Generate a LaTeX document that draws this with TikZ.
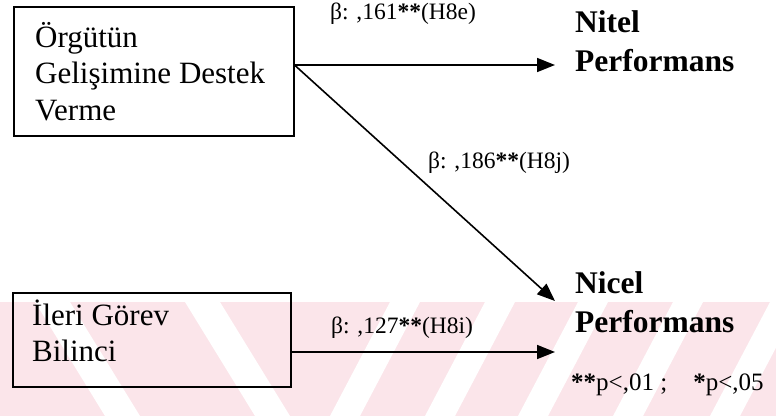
\documentclass[tikz,border=0pt]{standalone}
\usepackage{fontspec}
\setmainfont{Liberation Serif}
\usetikzlibrary{arrows.meta}
\definecolor{wmpink}{RGB}{251,229,234}
\begin{document}
\begin{tikzpicture}[x=1pt,y=-1pt,
  box/.style={draw=black, line width=1.5pt, inner sep=0pt, anchor=north west},
  boxtext/.style={anchor=base west, inner sep=0pt, font=\fontsize{31}{36.5}\selectfont},
  outcome/.style={anchor=base west, inner sep=0pt, font=\fontsize{31.5}{39.5}\selectfont\bfseries},
  coef/.style={anchor=base, inner sep=0pt, font=\fontsize{23.5}{27}\selectfont},
  note/.style={anchor=base west, inner sep=0pt, font=\fontsize{25}{29}\selectfont},
  effect/.style={line width=1.6pt, -{Triangle[length=18pt,width=14pt]}}
]
\useasboundingbox (0,0) rectangle (776,416);

% faint striped band along the lower edge
\fill[wmpink] (0,302) rectangle (776,416);
\foreach \t/\b in {35/105, 185/255}
  \fill[white] (\t,302) -- (\t+35,302) -- (\b+35,416) -- (\b,416) -- cycle;
\foreach \b in {330,425,518,613,710}
  \fill[white] (\b,416) -- (\b+30,416) -- (\b+90,302) -- (\b+60,302) -- cycle;

% predictor boxes
\node[box, minimum width=280pt, minimum height=129pt] (b1) at (13,6) {};
\node[boxtext] (b1t) at (35,47)
  {\vtop{\hbox{Örgütün}\hbox{Gelişimine Destek}\hbox{Verme}}};
\node[box, minimum width=278pt, minimum height=94pt] (b2) at (12,292) {};
\node[boxtext] (b2t) at (32,325)
  {\vtop{\hbox{İleri Görev}\hbox{Bilinci}}};

% outcomes
\node[outcome] (nit) at (575,32) {\vtop{\hbox{Nitel}\hbox{Performans}}};
\node[outcome] (nic) at (575,293) {\vtop{\hbox{Nicel}\hbox{Performans}}};

% arrow tips in front of the outcomes
\coordinate (t1) at (555,65);
\coordinate (t2) at (555,301);
\coordinate (t3) at (555,352);

% paths
\draw[effect] (b1.east |- t1) -- (t1);
\draw[effect] (b1.east |- t1) -- (t2);
\draw[effect] (b2.east |- t3) -- (t3);

% coefficients
\node[coef] (c1) at (403,19) {β: ,161\textbf{**}(H8e)};
\node[coef] (c2) at (499,168) {β: ,186\textbf{**}(H8j)};
\node[coef] (c3) at (402,333) {β: ,127\textbf{**}(H8i)};

% significance note
\node[note] (fn) at (571,390) {\textbf{**}p<,01 ;\hspace{26pt}\textbf{*}p<,05};
\end{tikzpicture}
\end{document}
